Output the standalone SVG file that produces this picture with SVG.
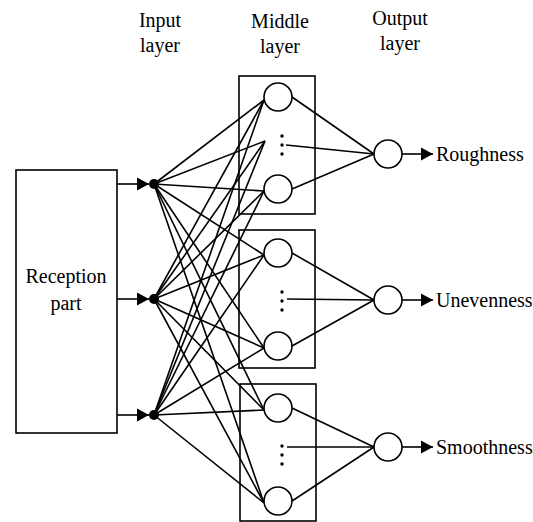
<svg xmlns="http://www.w3.org/2000/svg" width="533" height="522" viewBox="0 0 533 522">
<style>
.ln{stroke:#000;stroke-width:1.6;fill:none}
.bx{stroke:#000;stroke-width:1.6;fill:none}
.nd{stroke:#000;stroke-width:1.6;fill:#fff}
.dt{fill:#000}
.tx{font-size:20px;fill:#000}
.c{text-anchor:middle}
</style>
<defs>
<marker id="ah" markerWidth="12" markerHeight="14" refX="12" refY="7" orient="auto" markerUnits="userSpaceOnUse">
<path d="M0,0.5 L12,7 L0,13.5 Z" fill="#000"/>
</marker>
</defs>
<rect width="533" height="522" fill="#fff"/>
<g id="labels" font-family="'Liberation Serif', 'Times New Roman', 'DejaVu Serif', serif">
<text class="tx c" x="160" y="27">Input</text>
<text class="tx c" x="160" y="52">layer</text>
<text class="tx c" x="280" y="28">Middle</text>
<text class="tx c" x="280" y="53">layer</text>
<text class="tx c" x="400" y="25">Output</text>
<text class="tx c" x="400" y="50">layer</text>
</g>
<g id="connectors">
<line class="ln" x1="117" y1="184" x2="149" y2="184" marker-end="url(#ah)"/>
<line class="ln" x1="117" y1="299" x2="149" y2="299" marker-end="url(#ah)"/>
<line class="ln" x1="117" y1="415" x2="149" y2="415" marker-end="url(#ah)"/>
<g id="in1">
<line class="ln" x1="154" y1="184" x2="264" y2="100"/>
<line class="ln" x1="154" y1="184" x2="265" y2="141"/>
<line class="ln" x1="154" y1="184" x2="264" y2="191"/>
<line class="ln" x1="154" y1="184" x2="264" y2="255"/>
<line class="ln" x1="154" y1="184" x2="264" y2="348"/>
<line class="ln" x1="154" y1="184" x2="264" y2="410"/>
<line class="ln" x1="154" y1="184" x2="264" y2="503"/>
</g>
<g id="in2">
<line class="ln" x1="154" y1="299" x2="264" y2="100"/>
<line class="ln" x1="154" y1="299" x2="265" y2="141"/>
<line class="ln" x1="154" y1="299" x2="264" y2="191"/>
<line class="ln" x1="154" y1="299" x2="264" y2="255"/>
<line class="ln" x1="154" y1="299" x2="264" y2="348"/>
<line class="ln" x1="154" y1="299" x2="264" y2="410"/>
<line class="ln" x1="154" y1="299" x2="264" y2="503"/>
</g>
<g id="in3">
<line class="ln" x1="154" y1="415" x2="264" y2="100"/>
<line class="ln" x1="154" y1="415" x2="265" y2="141"/>
<line class="ln" x1="154" y1="415" x2="264" y2="191"/>
<line class="ln" x1="154" y1="415" x2="264" y2="255"/>
<line class="ln" x1="154" y1="415" x2="264" y2="348"/>
<line class="ln" x1="154" y1="415" x2="264" y2="410"/>
<line class="ln" x1="154" y1="415" x2="264" y2="503"/>
</g>
<g id="mid-out">
<line class="ln" x1="292" y1="97" x2="374" y2="154"/>
<line class="ln" x1="286" y1="145" x2="374" y2="154"/>
<line class="ln" x1="292" y1="189" x2="374" y2="154"/>
<line class="ln" x1="292" y1="253" x2="374" y2="300"/>
<line class="ln" x1="287" y1="299" x2="374" y2="300"/>
<line class="ln" x1="292" y1="346" x2="374" y2="300"/>
<line class="ln" x1="292" y1="408" x2="374" y2="447"/>
<line class="ln" x1="287" y1="447" x2="374" y2="447"/>
<line class="ln" x1="292" y1="501" x2="374" y2="447"/>
</g>
<line class="ln" x1="402" y1="154" x2="433" y2="154" marker-end="url(#ah)"/>
<line class="ln" x1="402" y1="300" x2="433" y2="300" marker-end="url(#ah)"/>
<line class="ln" x1="402" y1="447" x2="433" y2="447" marker-end="url(#ah)"/>
</g>
<g id="reception" font-family="'Liberation Serif', 'Times New Roman', 'DejaVu Serif', serif">
<rect class="bx" x="16" y="170" width="101" height="263"/>
<text class="tx c" x="66" y="283">Reception</text>
<text class="tx c" x="66" y="310">part</text>
</g>
<g id="input1"><circle class="dt" cx="154" cy="184" r="5"/></g>
<g id="input2"><circle class="dt" cx="154" cy="299" r="5"/></g>
<g id="input3"><circle class="dt" cx="154" cy="415" r="5"/></g>
<g id="middle1">
<rect class="bx" x="239" y="76" width="76" height="138"/>
<circle class="nd" cx="278" cy="97" r="14"/>
<circle class="nd" cx="278" cy="189" r="14"/>
<circle class="dt" cx="282" cy="136" r="1.7"/>
<circle class="dt" cx="282" cy="145" r="1.7"/>
<circle class="dt" cx="282" cy="154" r="1.7"/>
</g>
<g id="middle2">
<rect class="bx" x="239" y="230" width="76" height="138"/>
<circle class="nd" cx="278" cy="253" r="14"/>
<circle class="nd" cx="278" cy="346" r="14"/>
<circle class="dt" cx="282" cy="292" r="1.7"/>
<circle class="dt" cx="282" cy="301" r="1.7"/>
<circle class="dt" cx="282" cy="310" r="1.7"/>
</g>
<g id="middle3">
<rect class="bx" x="240" y="384" width="76" height="137"/>
<circle class="nd" cx="278" cy="408" r="14"/>
<circle class="nd" cx="278" cy="501" r="14"/>
<circle class="dt" cx="282" cy="446" r="1.7"/>
<circle class="dt" cx="282" cy="455" r="1.7"/>
<circle class="dt" cx="282" cy="464" r="1.7"/>
</g>
<g id="outputs" font-family="'Liberation Serif', 'Times New Roman', 'DejaVu Serif', serif">
<g id="output1">
<circle class="nd" cx="388" cy="154" r="14"/>
<text class="tx" x="436" y="161">Roughness</text>
</g>
<g id="output2">
<circle class="nd" cx="388" cy="300" r="14"/>
<text class="tx" x="436" y="307">Unevenness</text>
</g>
<g id="output3">
<circle class="nd" cx="388" cy="447" r="14"/>
<text class="tx" x="436" y="454">Smoothness</text>
</g>
</g>
</svg>
